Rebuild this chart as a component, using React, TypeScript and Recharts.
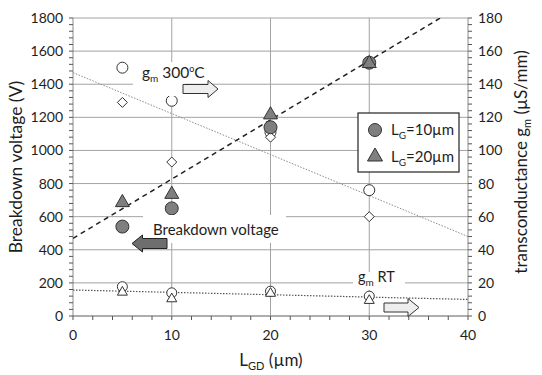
import React from "react";
import { ComposedChart, Scatter, XAxis, YAxis, CartesianGrid } from "recharts";

// gate-drain spacing (µm)
const lgd = [5, 10, 20, 30];

// breakdown voltage (V), left axis
const bvLg10 = [540, 650, 1140, 1530];
const bvLg20 = [690, 740, 1220, 1530];

// gm at 300°C (µS/mm), right axis
const gmHotLg10 = [150, 130, 111, 76];
const gmHotLg20 = [129, 93, 108, 60];

// gm at room temperature (µS/mm), right axis
const gmRtLg10 = [17.7, 14, 15, 12];
const gmRtLg20 = [14.7, 10.7, 14, 9.7];

// trend lines, end points
const bvFitX = [0, 37.2];
const bvFitY = [469, 1800];
const gmHotFitX = [0, 40];
const gmHotFitY = [147, 48];
const gmRtFitX = [0, 40];
const gmRtFitY = [15.7, 10];

const xMajor = [0, 10, 20, 30, 40];
const xGrid = [10, 20, 30];
const bvMajor = [0, 200, 400, 600, 800, 1000, 1200, 1400, 1600, 1800];
const gmMajor = [0, 20, 40, 60, 80, 100, 120, 140, 160, 180];

const W = 542;
const H = 375;
const FONT = "Lato, 'Open Sans', sans-serif";
const GRID = "#a3a3a3";
const AXIS = "#8a8a8a";
const TICK = "#555";
const GREY = "#7f7f7f";
const INK = "#1e1e1e";

// plot frame (margin.top 18, left axis 73 wide, right axis 74, x axis 59 high)
const LEFT = 73;
const RIGHT = W - 74;
const TOP = 18;
const BOTTOM = H - 59;

const pts = (xs: number[], ys: number[]) => xs.map((x, i) => ({ x, y: ys[i] }));
const steps = (max: number, step: number) => Array.from({ length: max / step + 1 }, (_, i) => i * step);

const circle = (r: number, fill: string) => (p: any) => (
  <circle cx={p.cx} cy={p.cy} r={r} fill={fill} stroke="#333" strokeWidth={1} />
);
const triangle = (s: number, fill: string) => (p: any) => {
  const h = s * 0.87;
  return (
    <path
      d={`M${p.cx},${p.cy - h * 0.6}L${p.cx + s / 2},${p.cy + h * 0.4}L${p.cx - s / 2},${p.cy + h * 0.4}Z`}
      fill={fill}
      stroke="#333"
      strokeWidth={1}
    />
  );
};
const diamond = (s: number) => (p: any) => (
  <path
    d={`M${p.cx},${p.cy - s}L${p.cx + s},${p.cy}L${p.cx},${p.cy + s}L${p.cx - s},${p.cy}Z`}
    fill="#fff"
    stroke="#333"
    strokeWidth={1}
  />
);
const noShape = () => <g />;

// label only on majors
const axisLabel = (side: "left" | "right" | "bottom", majors: number[]) => (props: any) => {
  const { x, y, payload } = props;
  const v = payload.value;
  if (!majors.includes(v)) return <g />;
  const anchor = side === "left" ? "end" : side === "right" ? "start" : "middle";
  return (
    <text x={x} y={y} dy={side === "bottom" ? "0.75em" : "0.36em"} textAnchor={anchor} fill={INK} fontSize={14} fontFamily={FONT}>
      {v}
    </text>
  );
};

// minor/major tick marks along the frame
function TickMarks() {
  const yPix = (v: number, max: number) => BOTTOM - (v / max) * (BOTTOM - TOP);
  const xPix = (v: number) => LEFT + (v / 40) * (RIGHT - LEFT);
  return (
    <g stroke={TICK} strokeWidth={1}>
      {steps(1800, 40).map((v) => (
        <line key={`l${v}`} x1={LEFT - 4} x2={LEFT} y1={yPix(v, 1800)} y2={yPix(v, 1800)} />
      ))}
      {steps(180, 4).map((v) => (
        <line key={`r${v}`} x1={RIGHT} x2={RIGHT + 4} y1={yPix(v, 180)} y2={yPix(v, 180)} />
      ))}
      {steps(40, 2).map((v) => (
        <line key={`b${v}`} x1={xPix(v)} x2={xPix(v)} y1={BOTTOM} y2={BOTTOM + 4} />
      ))}
    </g>
  );
}

function Overlay() {
  return (
    <svg width={W} height={H} style={{ position: "absolute", left: 0, top: 0, pointerEvents: "none" }} fontFamily={FONT}>
      <TickMarks />

      {/* gm 300°C note */}
      <rect x={133} y={62} width={52} height={34} fill="#fff" />
      <text x={142} y={78} fontSize={15.5} fill={INK}>
        g<tspan fontSize={10} dy={4}>m</tspan>
        <tspan dy={-4}> 300</tspan>
        <tspan fontSize={9} dy={-6}>o</tspan>
        <tspan dy={6}>C</tspan>
      </text>
      <path d="M183,84.5H208V80.5L218,89L208,97.5V93.5H183Z" fill="#eeeeee" stroke="#333" strokeWidth={1} />

      {/* breakdown voltage note */}
      <rect x={143} y={215} width={143} height={28} fill="#fff" />
      <text x={153} y={235} fontSize={15} fill={INK}>Breakdown voltage</text>
      <path d="M167,238.5H142.5V235L132,243.5L142.5,252V248.5H167Z" fill="#6e6e6e" stroke="#222" strokeWidth={1} />

      {/* gm RT note */}
      <rect x={353} y={272} width={52} height={18} fill="#fff" />
      <text x={358} y={282} fontSize={14.5} fill={INK}>
        g<tspan fontSize={10} dy={4}>m</tspan>
        <tspan dy={-4}> RT</tspan>
      </text>
      <path d="M384,303H408V298.5L419,307.5L408,316.5V312H384Z" fill="#eeeeee" stroke="#333" strokeWidth={1} />

      {/* legend */}
      <rect x={358} y={113} width={101} height={59} fill="#fff" stroke="#222" strokeWidth={1.2} />
      <circle cx={375} cy={130} r={6.5} fill={GREY} stroke="#333" />
      <text x={391} y={135} fontSize={15} fill={INK}>
        L<tspan fontSize={10} dy={4}>G</tspan>
        <tspan dy={-4}>=10µm</tspan>
      </text>
      <path d="M375,148L382.5,161L367.5,161Z" fill={GREY} stroke="#333" />
      <text x={391} y={162} fontSize={15} fill={INK}>
        L<tspan fontSize={10} dy={4}>G</tspan>
        <tspan dy={-4}>=20µm</tspan>
      </text>

      {/* axis titles */}
      <text x={0} y={0} fontSize={17.5} fill={INK} textAnchor="middle" transform="translate(22,167) rotate(-90)">
        Breakdown voltage (V)
      </text>
      <text x={0} y={0} fontSize={17} fill={INK} textAnchor="middle" transform="translate(527,162) rotate(-90)">
        transconductance g<tspan fontSize={11} dy={4}>m</tspan>
        <tspan dy={-4}> (µS/mm)</tspan>
      </text>
      <text x={271} y={366} fontSize={17} fill={INK} textAnchor="middle">
        L<tspan fontSize={11} dy={4}>GD</tspan>
        <tspan dy={-4}> (µm)</tspan>
      </text>
    </svg>
  );
}

export default function App() {
  return (
    <div style={{ position: "absolute", left: 0, top: 0, width: W, height: H, background: "#fff" }}>
      <ComposedChart width={W} height={H} margin={{ top: TOP, right: 0, bottom: 0, left: 0 }}>
        <CartesianGrid yAxisId="bv" stroke={GRID} horizontalValues={bvMajor} verticalValues={xGrid} />
        <XAxis
          type="number"
          dataKey="x"
          domain={[0, 40]}
          ticks={xMajor}
          interval={0}
          height={59}
          tickSize={4}
          tickMargin={9}
          tickLine={false}
          axisLine={{ stroke: AXIS }}
          tick={axisLabel("bottom", xMajor)}
          allowDataOverflow
        />
        <YAxis
          yAxisId="bv"
          type="number"
          dataKey="y"
          domain={[0, 1800]}
          ticks={bvMajor}
          interval={0}
          width={73}
          tickSize={4}
          tickMargin={6}
          tickLine={false}
          axisLine={{ stroke: AXIS }}
          tick={axisLabel("left", bvMajor)}
          allowDataOverflow
        />
        <YAxis
          yAxisId="gm"
          orientation="right"
          type="number"
          dataKey="y"
          domain={[0, 180]}
          ticks={gmMajor}
          interval={0}
          width={74}
          tickSize={4}
          tickMargin={6}
          tickLine={false}
          axisLine={{ stroke: AXIS }}
          tick={axisLabel("right", gmMajor)}
          allowDataOverflow
        />

        <Scatter yAxisId="gm" data={pts(gmHotFitX, gmHotFitY)} shape={noShape} line={{ stroke: "#8c8c8c", strokeWidth: 1, strokeDasharray: "1.5 1.5" }} isAnimationActive={false} />
        <Scatter yAxisId="gm" data={pts(gmRtFitX, gmRtFitY)} shape={noShape} line={{ stroke: "#555", strokeWidth: 1.2, strokeDasharray: "1.5 1.5" }} isAnimationActive={false} />
        <Scatter yAxisId="bv" data={pts(bvFitX, bvFitY)} shape={noShape} line={{ stroke: "#222", strokeWidth: 1.5, strokeDasharray: "5 4" }} isAnimationActive={false} />

        <Scatter yAxisId="gm" data={pts(lgd, gmHotLg10)} shape={circle(5.5, "#fff")} isAnimationActive={false} />
        <Scatter yAxisId="gm" data={pts(lgd, gmHotLg20)} shape={diamond(5)} isAnimationActive={false} />
        <Scatter yAxisId="gm" data={pts(lgd, gmRtLg10)} shape={circle(5, "#fff")} isAnimationActive={false} />
        <Scatter yAxisId="gm" data={pts(lgd, gmRtLg20)} shape={triangle(10, "#fff")} isAnimationActive={false} />
        <Scatter yAxisId="bv" data={pts(lgd, bvLg10)} shape={circle(6.5, GREY)} isAnimationActive={false} />
        <Scatter yAxisId="bv" data={pts(lgd, bvLg20)} shape={triangle(14, GREY)} isAnimationActive={false} />
      </ComposedChart>
      <Overlay />
    </div>
  );
}
